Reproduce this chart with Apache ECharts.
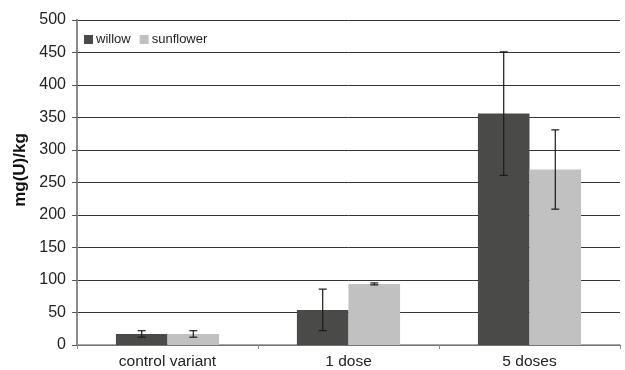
<!DOCTYPE html>
<html><head><meta charset="utf-8">
<script src="https://cdn.jsdelivr.net/npm/echarts@6/dist/echarts.min.js"></script>
<style>html,body{margin:0;padding:0;background:#fff}#c{width:625px;height:370px}</style>
</head><body><div id="c"></div>
<script>
const categories = ['control variant', '1 dose', '5 doses'];
const willow = [17, 54, 356];
const willowErr = [5, 32, 95];
const sunflower = [17, 94, 270];
const sunflowerErr = [5, 1.5, 61];
const yTicks = [0, 500, 50];

const chart = echarts.init(document.getElementById('c'));
const font = 'Liberation Sans, Arial, sans-serif';

function errSeries(vals, errs, idx) {
  return {
    type: 'custom',
    z: 10,
    data: vals.map((v, i) => [i, v, errs[i]]),
    renderItem: function (params, api) {
      const i = api.value(0), v = api.value(1), e = api.value(2);
      const size = api.size([1, 0]);
      const bw = size[0] * 0.285;
      const c = api.coord([i, v]);
      const x = c[0] + (idx === 0 ? -bw / 2 : bw / 2);
      const yHi = api.coord([i, v + e])[1];
      const yLo = api.coord([i, v - e])[1];
      const st = {stroke: '#1a1a1a', lineWidth: 1.2};
      return {type: 'group', children: [
        {type: 'line', shape: {x1: x, y1: yHi, x2: x, y2: yLo}, style: st},
        {type: 'line', shape: {x1: x - 4, y1: yHi, x2: x + 4, y2: yHi}, style: st},
        {type: 'line', shape: {x1: x - 4, y1: yLo, x2: x + 4, y2: yLo}, style: st}
      ]};
    }
  };
}

chart.setOption({
  animation: false,
  grid: {left: 77, right: 5, top: 20, bottom: 25},
  graphic: [{
    type: 'text', x: 20, y: 170, rotation: Math.PI / 2,
    style: {text: 'mg(U)/kg', font: 'bold 17px Liberation Sans, Arial, sans-serif', fill: '#111',
      textAlign: 'center', textVerticalAlign: 'middle'}
  }],
  legend: {
    left: 84, top: 33, padding: 0, itemWidth: 9, itemHeight: 9, itemGap: 9,
    icon: 'rect',
    textStyle: {fontFamily: font, fontSize: 13, color: '#222', padding: [0, 0, 0, -2]},
    data: ['willow', 'sunflower']
  },
  xAxis: {
    type: 'category', data: categories,
    axisLine: {lineStyle: {color: '#8a8a8a', width: 1.5}},
    axisTick: {show: true, length: 4, lineStyle: {color: '#8a8a8a'}},
    axisLabel: {fontFamily: font, fontSize: 15.5, color: '#222', margin: 9}
  },
  yAxis: {
    type: 'value', min: yTicks[0], max: yTicks[1], interval: yTicks[2],
    axisLine: {show: true, lineStyle: {color: '#8a8a8a', width: 2}},
    axisTick: {show: true, length: 5, lineStyle: {color: '#555'}},
    axisLabel: {fontFamily: font, fontSize: 16, color: '#222', margin: 11},
    splitLine: {lineStyle: {color: '#333', width: 1}}
  },
  series: [
    {name: 'willow', type: 'bar', data: willow, barWidth: '28.5%', barGap: '0%', itemStyle: {color: '#4a4a48'}},
    {name: 'sunflower', type: 'bar', data: sunflower, barWidth: '28.5%', barGap: '0%', itemStyle: {color: '#c0c1c0'}},
    errSeries(willow, willowErr, 0),
    errSeries(sunflower, sunflowerErr, 1)
  ]
});
</script></body></html>
